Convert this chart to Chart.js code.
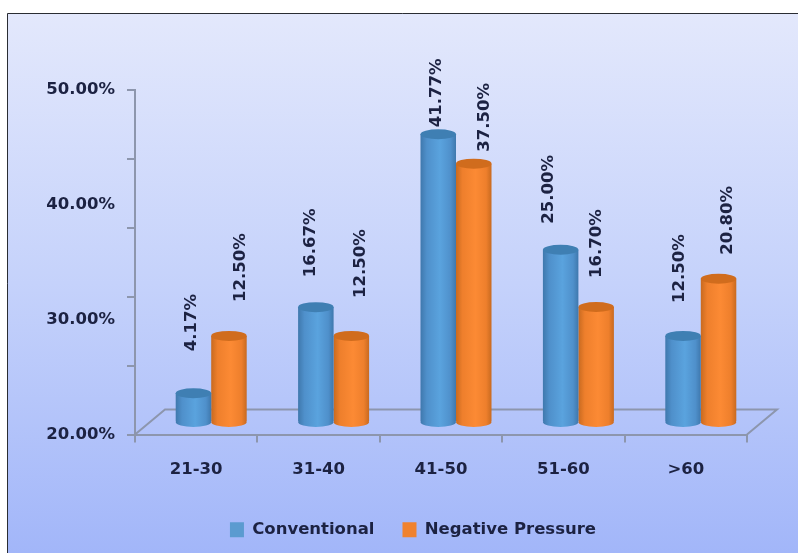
<!DOCTYPE html>
<html><head><meta charset="utf-8">
<style>html,body{margin:0;padding:0;background:#fff}canvas{display:block}</style>
<script src="https://cdn.jsdelivr.net/npm/chart.js@4"></script></head>
<body><canvas id="c" width="798" height="553"></canvas>
<script>
const categories = ['21-30','31-40','41-50','51-60','>60'];
const conventional = [4.17,16.67,41.77,25.00,12.50];
const negativePressure = [12.50,12.50,37.50,16.70,20.80];
const seriesNames = ['Conventional','Negative Pressure'];
const yTickLabels = ['20.00%','30.00%','40.00%','50.00%'];
// hand-placed label nudges: [dx from bar centre, gap above bar top]
const labelNudgeA = [[-2,42],[-5,30],[-2,7],[-12,26],[-3,33]];
const labelNudgeB = [[12,34],[9,38],[11,12],[1,29],[9.5,24]];

const FONT = 'bold 16.5px "DejaVu Sans"';
const TEXT = '#1c2242';
const AXIS = '#8d96ad';
const DEPTH_X = 30, DEPTH_Y = 25;
const palettes = [
  {edge:'#3f78ad',mid:'#4f90cb',light:'#5aa3de',cap:'#3f7fb3',solid:'#5b9bd0'},
  {edge:'#c86a20',mid:'#ee7f2c',light:'#fc8a34',cap:'#d06c1d',solid:'#f0822e'}
];
function barFill(ctx){
  if(ctx.type!=='data') return palettes[ctx.datasetIndex].solid;
  const ch=ctx.chart, sx=ch.scales.x, p=palettes[ctx.datasetIndex];
  const cw=sx.getPixelForValue(1)-sx.getPixelForValue(0), w=cw*0.58/2;
  const left=sx.getPixelForValue(ctx.dataIndex)-w+ctx.datasetIndex*w;
  const g=ch.ctx.createLinearGradient(left,0,left+w,0);
  g.addColorStop(0,p.edge);g.addColorStop(0.18,p.mid);g.addColorStop(0.55,p.light);
  g.addColorStop(0.85,p.mid);g.addColorStop(1,p.edge);
  return g;
}
const scene = {
  id:'scene',
  beforeDraw(ch){
    const c=ch.ctx,W=ch.width,H=ch.height;
    c.save();
    const g=c.createLinearGradient(0,13,0,H);
    g.addColorStop(0,'#e3e8fc');g.addColorStop(0.5,'#c5d2fb');g.addColorStop(1,'#a2b6f9');
    c.fillStyle=g;c.fillRect(7,13,W-7,H-13);
    c.strokeStyle='#2a2d33';c.lineWidth=1;
    c.beginPath();c.moveTo(7.5,H);c.lineTo(7.5,13.5);c.lineTo(W,13.5);c.stroke();
    c.restore();
  },
  beforeDatasetsDraw(ch){
    const c=ch.ctx,a=ch.chartArea;
    c.save();
    c.strokeStyle=AXIS;c.lineWidth=2;
    c.beginPath();
    c.moveTo(a.left,a.bottom);c.lineTo(a.left+DEPTH_X,a.bottom-DEPTH_Y);
    c.lineTo(a.right+DEPTH_X,a.bottom-DEPTH_Y);c.lineTo(a.right,a.bottom);
    c.stroke();
    c.restore();
    c.save();
    c.translate(DEPTH_X/2,-DEPTH_Y/2);
  },
  afterDatasetDraw(ch,args){
    const c=ch.ctx,meta=args.meta,p=palettes[args.index],base=ch.scales.yv.getPixelForValue(0);
    meta.data.forEach((el,i)=>{
      const rx=el.width/2,ry=5;
      c.save();
      c.fillStyle=barFill({type:'data',chart:ch,datasetIndex:args.index,dataIndex:i});
      c.beginPath();c.ellipse(el.x,base,rx,ry,0,0,Math.PI*2);c.fill();
      c.fillStyle=p.cap;
      c.beginPath();c.ellipse(el.x,el.y,rx,ry,0,0,Math.PI*2);c.fill();
      c.restore();
    });
  },
  afterDatasetsDraw(ch){
    const c=ch.ctx;
    [labelNudgeA,labelNudgeB].forEach((nudge,d)=>{
      const meta=ch.getDatasetMeta(d);
      meta.data.forEach((el,i)=>{
        c.save();
        c.translate(el.x+nudge[i][0],el.y-nudge[i][1]);
        c.rotate(-Math.PI/2);
        c.font=FONT;c.fillStyle=TEXT;c.textAlign='left';c.textBaseline='middle';
        c.fillText(ch.data.datasets[d].data[i].toFixed(2)+'%',0,0);
        c.restore();
      });
    });
    c.restore();
  }
};
new Chart(document.getElementById('c'),{
  type:'bar',
  data:{labels:categories,datasets:[
    {label:seriesNames[0],data:conventional,backgroundColor:barFill,yAxisID:'yv',clip:false},
    {label:seriesNames[1],data:negativePressure,backgroundColor:barFill,yAxisID:'yv',clip:false}
  ]},
  plugins:[scene],
  options:{
    responsive:false,animation:false,
    categoryPercentage:0.58,barPercentage:1,
    layout:{padding:{left:28,right:0,top:90,bottom:5}},
    plugins:{
      tooltip:{enabled:false},
      legend:{position:'bottom',labels:{
        boxWidth:14,boxHeight:15,padding:28,color:TEXT,
        font:{family:'DejaVu Sans',size:16.5,weight:'bold'},
        generateLabels(ch){return ch.data.datasets.map((d,i)=>({text:d.label,fillStyle:palettes[i].solid,strokeStyle:palettes[i].solid,lineWidth:0,datasetIndex:i,fontColor:TEXT}));}
      }}
    },
    scales:{
      x:{
        grid:{drawOnChartArea:false,offset:true,color:AXIS,lineWidth:2,tickLength:8,tickColor:AXIS},
        border:{color:AXIS,width:2},
        ticks:{color:TEXT,font:{family:'DejaVu Sans',size:16.5,weight:'bold'},padding:17,maxRotation:0},
        afterFit(s){s.height=59;}
      },
      yv:{
        position:'left',weight:0,min:0,max:50,
        grid:{drawOnChartArea:false,color:AXIS,lineWidth:2,tickLength:8,tickColor:AXIS},
        border:{color:AXIS,width:2},
        ticks:{stepSize:10,display:false},
        afterFit(s){s.width=8;}
      },
      y:{
        position:'left',weight:1,min:20,max:50,
        grid:{display:false},border:{display:false},
        ticks:{stepSize:10,color:TEXT,padding:4,font:{family:'DejaVu Sans',size:16.5,weight:'bold'},
          callback(v){return yTickLabels[(v-20)/10];}},
        afterFit(s){s.width=99;}
      },
      spacer:{
        position:'right',min:0,max:1,
        grid:{display:false},border:{display:false},ticks:{display:false},
        afterFit(s){s.width=51;}
      }
    }
  }
});
</script></body></html>
